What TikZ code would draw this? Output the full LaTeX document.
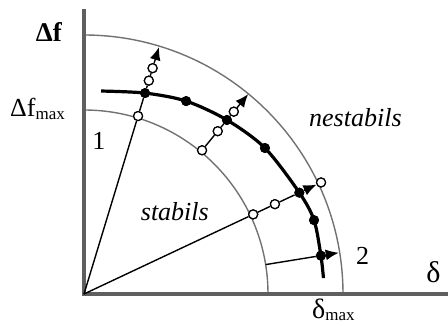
\documentclass[tikz,border=0pt]{standalone}
\usepackage{fontspec}
\setmainfont{Liberation Serif}
\usetikzlibrary{arrows.meta}
\definecolor{axgrey}{HTML}{5F5F5F}
\definecolor{arcgrey}{HTML}{727272}

\begin{document}
\begin{tikzpicture}[
  x=1pt, y=1pt,
  axis/.style={axgrey, line width=4pt},
  limit/.style={arcgrey, line width=1.4pt},
  traj/.style={black, line width=1.4pt},
  trajarrow/.style={traj, -{Latex[length=13pt,width=11pt]}},
  border/.style={black, line width=3.2pt},
  opendot/.style={circle, draw=black, fill=white, line width=1.2pt,
                  inner sep=0pt, minimum size=9pt},
  fulldot/.style={circle, fill=black, inner sep=0pt, minimum size=10pt},
  lbl/.style={font=\fontsize{26}{30}\selectfont, inner sep=0pt},
  region/.style={font=\fontsize{26}{30}\selectfont\itshape, inner sep=0pt},
]
  \useasboundingbox (-84,-33) rectangle (364,294);

  %% Limit arcs
  \draw[limit] (0:184) arc[start angle=0, end angle=90, radius=184];
  \draw[limit] (0:259) arc[start angle=0, end angle=90, radius=259];

  %% Axes
  \coordinate (O) at (0,0);
  \coordinate (ytop) at (0,285);
  \coordinate (xend) at (364,0);
  \draw[axis] (ytop) -- (O) -- (xend);

  %% Points on the boundary curve
  \coordinate (cs) at (85.2:203.7);
  \coordinate (ce) at (3.8:240);
  \node[fulldot] (d1) at (73.1:210) {};
  \node[fulldot] (d2) at (62.1:218.3) {};
  \node[fulldot] (d3) at (50.6:225.2) {};
  \node[fulldot] (d4) at (38.9:232.5) {};
  \node[fulldot] (d5) at (25.2:238) {};
  \node[fulldot] (d6) at (17.8:241.6) {};
  \node[fulldot] (d7) at (9.2:240) {};

  %% Open points along the trajectories
  \node[opendot] (o1a) at (73.1:186) {};
  \node[opendot] (o1b) at (73.1:223) {};
  \node[opendot] (o1c) at (73.1:236) {};
  \coordinate (t1) at (73.1:258);

  \node[opendot] (o2a) at (50.6:186) {};
  \node[opendot] (o2b) at (50.6:210.7) {};
  \node[opendot] (o2c) at (50.6:236) {};
  \coordinate (t2) at (50.6:258.6);

  \node[opendot] (o3a) at (25.2:187) {};
  \node[opendot] (o3b) at (25.2:211) {};
  \node[opendot] (o3c) at (25.2:262) {};

  \coordinate (s4) at (9.2:184);
  \coordinate (t4) at (9.2:258);

  %% Trajectories
  \draw[trajarrow] (O) -- (o1a) -- (d1) -- (o1b) -- (o1c) -- (t1);
  \draw[trajarrow] (o2a) -- (o2b) -- (d3) -- (o2c) -- (t2);
  \draw[trajarrow] (O) -- (o3a) -- (o3b) -- (d5) -- (o3c);
  \draw[trajarrow] (s4) -- (d7) -- (t4);

  %% Stability boundary
  \draw[border] plot[smooth] coordinates {(cs) (d1.center) (d2.center) (d3.center)
    (d4.center) (d5.center) (d6.center) (d7.center) (ce)};

  %% Redraw points on top
  \foreach \p in {d1,d2,d3,d4,d5,d6,d7}
    \fill (\p.center) circle[radius=5pt];
  \foreach \p in {o1a,o1b,o1c,o2a,o2b,o2c,o3a,o3b,o3c}
    \draw[black, fill=white, line width=1.2pt] (\p.center) circle[radius=4.5pt];

  %% Labels
  \node[lbl, anchor=base east] (ylab) at (-22,252)
    {\fontsize{27}{30}\selectfont\bfseries Δf};
  \node[lbl, anchor=base west] (yfmax) at (-74,177)
    {Δf\raisebox{-3pt}{\fontsize{17}{17}\selectfont max}};
  \node[lbl, anchor=base] (xlab) at (349.5,12) {\fontsize{30}{30}\selectfont δ};
  \node[lbl, anchor=base west] (xdmax) at (228,-24)
    {\fontsize{28}{30}\selectfont δ\raisebox{-3pt}{\fontsize{17}{17}\selectfont max}};
  \node[lbl, anchor=base] (one) at (15,144) {1};
  \node[lbl, anchor=base] (two) at (278.5,30) {2};
  \node[region, anchor=base west] (stab) at (56.7,73) {stabils};
  \node[region, anchor=base west] (nstab) at (225,167) {nestabils};

\end{tikzpicture}
\end{document}
